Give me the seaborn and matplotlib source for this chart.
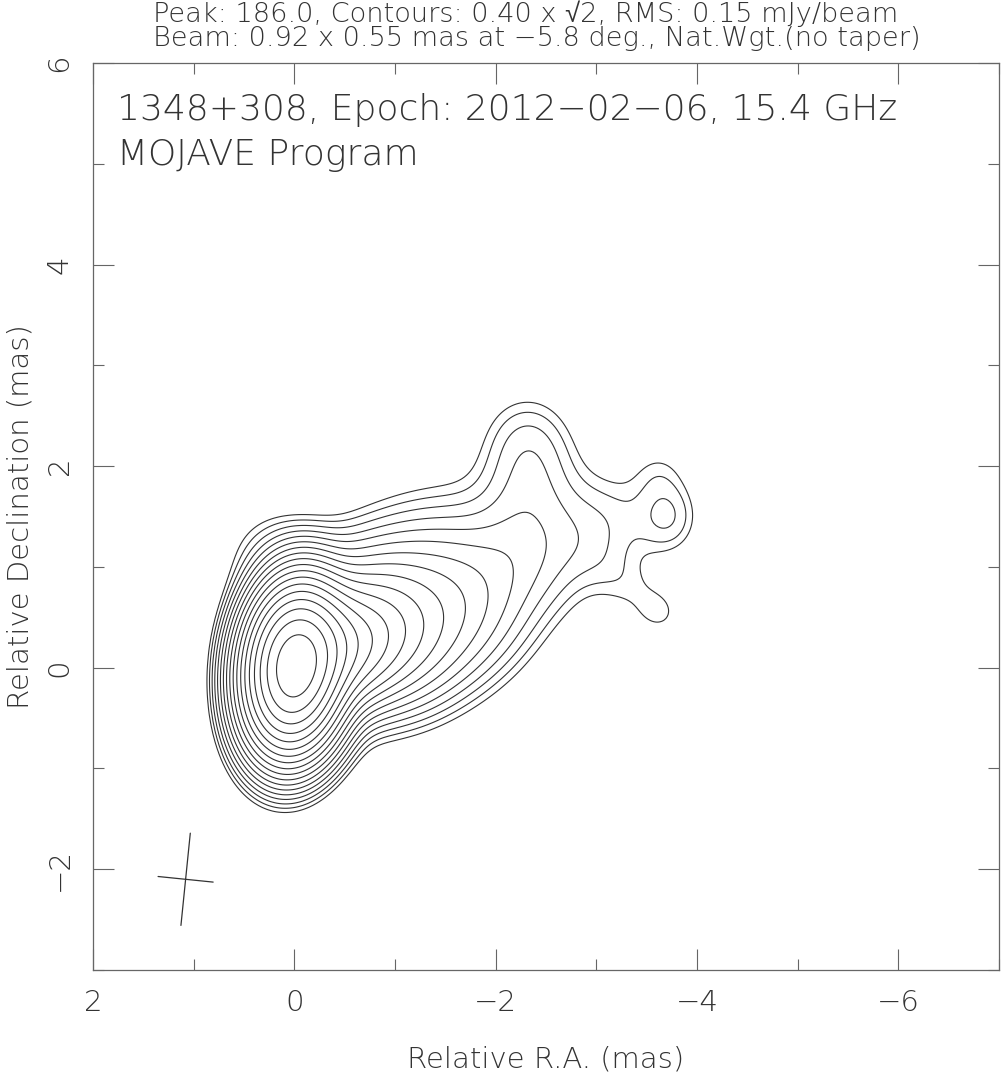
import numpy as np
import matplotlib
matplotlib.use("Agg")
import matplotlib.pyplot as plt
import seaborn as sns

# ---------------- data ----------------
title_line1 = "Peak: 186.0, Contours: 0.40 x \u221a2, RMS: 0.15 mJy/beam"
title_line2 = "Beam: 0.92 x 0.55 mas at \u22125.8 deg., Nat.Wgt.(no taper)"
label_line1 = "1348+308, Epoch: 2012\u221202\u221206, 15.4 GHz"
label_line2 = "MOJAVE Program"

peak_flux = 186.0
base_level = 0.40
n_levels = 18

# Gaussian brightness components (beam-convolved, mJy/beam)
comp_x = [0.00, -0.42, -0.85, -1.30, -1.75, -2.20, -2.30, -2.35, -2.30,
          -2.80, -3.25, -3.72, -3.35, -3.62, -1.00, -1.30, 0.25, -3.62]
comp_y = [0.00, 0.20, 0.40, 0.58, 0.80, 1.10, 1.55, 2.00, 2.35,
          1.30, 1.45, 1.50, 0.78, 1.95, 1.25, 0.05, 1.15, 0.55]
comp_peak = [182.0, 28.0, 9.0, 3.5, 1.6, 0.8, 0.55, 0.65, 0.4,
             0.6, 0.3, 0.7, 0.36, 0.3, 0.35, 0.6, 0.45, 0.25]
comp_smaj = [0.41, 0.32, 0.35, 0.40, 0.40, 0.35, 0.35, 0.35, 0.30,
             0.45, 0.35, 0.25, 0.40, 0.20, 0.90, 0.90, 0.30, 0.15]
comp_smin = [0.245, 0.30, 0.40, 0.45, 0.45, 0.35, 0.30, 0.30, 0.30,
             0.35, 0.30, 0.20, 0.20, 0.20, 0.40, 0.35, 0.30, 0.15]
comp_pa = [-5.8, -63, -63, -63, -63, -10, 0, 0, 0,
           -30, -80, 0, 50, 0, -63, -55, 0, 0]

beam_x, beam_y = 1.08, -2.10
beam_maj, beam_min, beam_pa = 0.92, 0.55, -5.8

x_ticks_major = [2, 0, -2, -4, -6]
y_ticks_major = [-2, 0, 2, 4, 6]

# ---------------- style ----------------
sns.set_style("ticks")
plt.rcParams["font.family"] = ["DejaVu Sans", "Liberation Sans"]
plt.rcParams["font.weight"] = "light"
plt.rcParams["axes.labelweight"] = "light"
ink = "#333333"
frame = "#666666"

fig = plt.figure(figsize=(10.01, 10.79), dpi=100)
ax = fig.add_axes([93 / 1001, 109 / 1079, 906 / 1001, 907 / 1079])

# ---------------- brightness map ----------------
gx = np.linspace(2.2, -7.2, 470)
gy = np.linspace(-3.2, 6.2, 470)
X, Y = np.meshgrid(gx, gy)
Z = np.zeros_like(X)
for x0, y0, pk, sa, sb, pa in zip(comp_x, comp_y, comp_peak, comp_smaj, comp_smin, comp_pa):
    t = np.deg2rad(pa)
    dx, dy = X - x0, Y - y0
    u = dx * np.sin(t) + dy * np.cos(t)
    v = dx * np.cos(t) - dy * np.sin(t)
    Z += pk * np.exp(-0.5 * ((u / sa) ** 2 + (v / sb) ** 2))

levels = [base_level * np.sqrt(2) ** k for k in range(n_levels)]
ax.contour(X, Y, Z, levels=levels, colors=ink, linewidths=0.8)

# beam cross
t = np.deg2rad(beam_pa)
ax.plot([beam_x - 0.5 * beam_maj * np.sin(t), beam_x + 0.5 * beam_maj * np.sin(t)],
        [beam_y - 0.5 * beam_maj * np.cos(t), beam_y + 0.5 * beam_maj * np.cos(t)],
        color=ink, lw=0.9)
ax.plot([beam_x - 0.5 * beam_min * np.cos(t), beam_x + 0.5 * beam_min * np.cos(t)],
        [beam_y + 0.5 * beam_min * np.sin(t), beam_y - 0.5 * beam_min * np.sin(t)],
        color=ink, lw=0.9)

# ---------------- axes ----------------
ax.set_xlim(2, -7)
ax.set_ylim(-3, 6)
ax.set_xticks(x_ticks_major)
ax.set_yticks(y_ticks_major)
ax.set_xticks(np.arange(-7, 3, 1), minor=True)
ax.set_yticks(np.arange(-3, 7, 1), minor=True)
ax.set_xticklabels(["2", "0", "\u22122", "\u22124", "\u22126"], fontsize=21, color=ink)
ax.set_yticklabels(["\u22122", "0", "2", "4", "6"], fontsize=21, color=ink,
                   rotation=90, va="center")
ax.tick_params(which="both", direction="in", top=True, right=True, color=frame, width=0.8)
ax.tick_params(which="major", length=15, pad=14)
ax.tick_params(which="minor", length=8)
for s in ax.spines.values():
    s.set_color(frame)
    s.set_linewidth(0.9)

ax.set_xlabel("Relative R.A. (mas)", fontsize=21, color=ink, labelpad=20, fontweight="light")
ax.set_ylabel("Relative Declination (mas)", fontsize=21, color=ink, labelpad=8, fontweight="light")

fig.text(153 / 1001, 1 - 22 / 1079, title_line1, fontsize=19.6, color=ink, ha="left", va="baseline")
fig.text(153 / 1001, 1 - 46 / 1079, title_line2, fontsize=19.6, color=ink, ha="left", va="baseline")
fig.text(117 / 1001, 1 - 120 / 1079, label_line1, fontsize=25.9, color=ink, ha="left", va="baseline")
fig.text(117 / 1001, 1 - 165 / 1079, label_line2, fontsize=25.9, color=ink, ha="left", va="baseline")

fig.savefig("out.png", dpi=100)
